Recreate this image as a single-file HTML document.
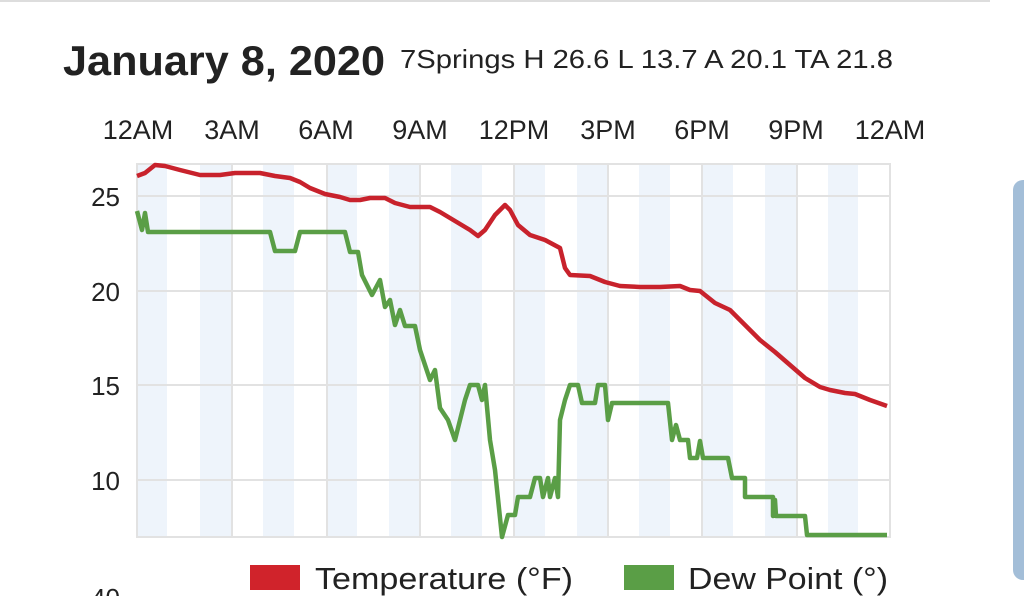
<!DOCTYPE html>
<html><head><style>
body{margin:0;width:1024px;height:596px;overflow:hidden;background:#fff;font-family:"Liberation Sans",sans-serif;color:#222}
</style></head><body>
<svg width="1024" height="596" style="position:absolute;left:0;top:0">
<line x1="0" y1="1" x2="990" y2="1" stroke="#ddd" stroke-width="2"/>
<text x="63" y="75" font-size="42" font-weight="bold" fill="#222" textLength="322" lengthAdjust="spacingAndGlyphs">January 8, 2020</text>
<text x="400" y="68" font-size="26" fill="#222" textLength="493" lengthAdjust="spacingAndGlyphs">7Springs H 26.6 L 13.7 A 20.1 TA 21.8</text>
<g font-size="27" fill="#222" text-anchor="middle">
<text x="138" y="139">12AM</text><text x="232" y="139">3AM</text><text x="326" y="139">6AM</text><text x="420" y="139">9AM</text><text x="514" y="139">12PM</text><text x="608" y="139">3PM</text><text x="702" y="139">6PM</text><text x="796" y="139">9PM</text><text x="890" y="139">12AM</text>
</g>
<g fill="#eef4fb">
<rect x="137" y="163" width="30" height="374"/><rect x="200" y="163" width="31" height="374"/><rect x="263" y="163" width="31" height="374"/><rect x="326" y="163" width="31" height="374"/><rect x="389" y="163" width="31" height="374"/><rect x="451" y="163" width="31" height="374"/><rect x="514" y="163" width="31" height="374"/><rect x="577" y="163" width="31" height="374"/><rect x="639" y="163" width="31" height="374"/><rect x="702" y="163" width="31" height="374"/><rect x="765" y="163" width="31" height="374"/><rect x="828" y="163" width="30" height="374"/>
</g>
<g stroke="#e2e2e2" stroke-width="2" fill="none">
<rect x="137" y="164" width="753" height="373"/>
<line x1="137" y1="196" x2="890" y2="196"/><line x1="137" y1="291" x2="890" y2="291"/><line x1="137" y1="385" x2="890" y2="385"/><line x1="137" y1="480" x2="890" y2="480"/>
<line x1="232" y1="164" x2="232" y2="537"/><line x1="327" y1="164" x2="327" y2="537"/><line x1="420" y1="164" x2="420" y2="537"/><line x1="514" y1="164" x2="514" y2="537"/><line x1="608" y1="164" x2="608" y2="537"/><line x1="702" y1="164" x2="702" y2="537"/><line x1="797" y1="164" x2="797" y2="537"/>
</g>
<g font-size="26" fill="#222" text-anchor="end">
<text x="120" y="206">25</text><text x="120" y="301">20</text><text x="120" y="395">15</text><text x="120" y="490">10</text><text x="120" y="607">40</text>
</g>
<polyline fill="none" stroke="#c8222c" stroke-width="4.5" stroke-linejoin="round" points="137,176 145,173 155,165 165,166 180,170 200,175 220,175 235,173 260,173 275,176 290,178 300,182 310,188 325,194 340,197 350,200 360,200 370,198 385,198 395,203 410,207 430,207 440,212 450,218 460,224 470,230 478,236 485,230 495,215 505,205 510,210 518,225 530,235 545,240 560,248 565,268 570,275 590,276 605,282 620,286 640,287 660,287 680,286 690,290 700,291 715,303 730,310 745,325 760,340 775,352 790,365 805,378 820,387 830,390 845,393 855,394 870,400 887,406"/>
<polyline fill="none" stroke="#5a9e46" stroke-width="4.5" stroke-linejoin="round" points="137,211 142,230 145,213 148,232 270,232 275,251 295,251 300,232 345,232 350,252 358,252 362,275 372,295 380,280 385,307 390,300 395,325 400,310 405,326 415,326 420,350 425,365 430,380 435,370 440,408 448,420 455,440 465,400 470,385 478,385 482,400 485,385 490,440 495,470 502,537 508,515 515,515 518,497 530,497 535,478 540,478 543,497 548,478 550,497 555,478 558,497 560,420 565,400 570,385 578,385 582,403 595,403 598,385 605,385 608,420 612,403 668,403 672,440 676,425 680,440 688,440 690,458 697,458 700,441 703,458 728,458 732,478 745,478 745,497 773,497 773,516 775,500 776,516 805,516 807,535 887,535"/>
<rect x="250" y="565" width="50" height="25" fill="#d0232b"/>
<text x="315" y="589" font-size="31" fill="#222" textLength="258" lengthAdjust="spacingAndGlyphs">Temperature (°F)</text>
<rect x="624" y="565" width="50" height="25" fill="#5a9e46"/>
<text x="688" y="589" font-size="31" fill="#222" textLength="200" lengthAdjust="spacingAndGlyphs">Dew Point (°)</text>
<rect x="1013" y="180" width="30" height="400" rx="10" fill="#a3bed8"/>
</svg>
</body></html>
